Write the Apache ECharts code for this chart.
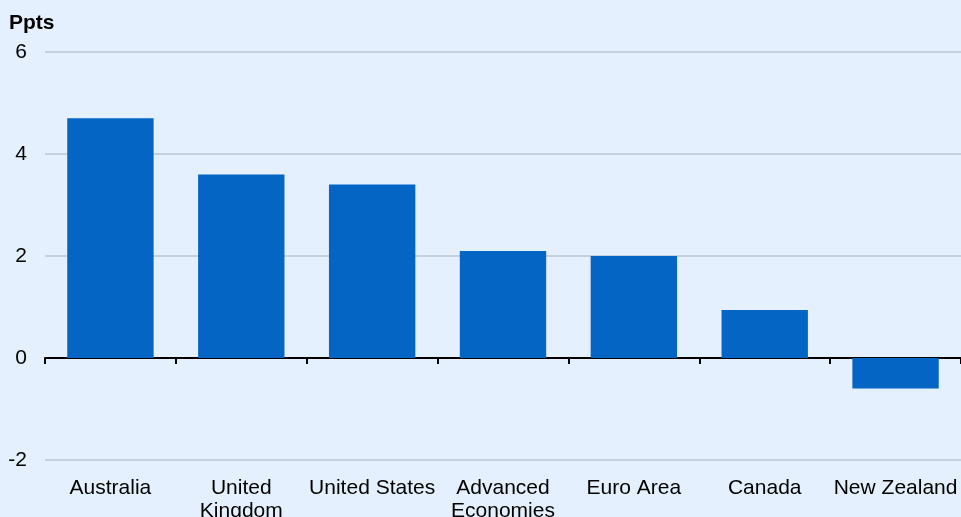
<!DOCTYPE html>
<html><head><meta charset="utf-8">
<script src="https://cdn.jsdelivr.net/npm/echarts@6/dist/echarts.min.js"></script>
<style>html,body{margin:0;padding:0;background:#e4f0fd;}#c{width:961px;height:517px;}</style>
</head><body><div id="c"></div>
<script>
const categories = ["Australia", "United\nKingdom", "United States", "Advanced\nEconomies", "Euro Area", "Canada", "New Zealand"];
const values = [4.7, 3.6, 3.4, 2.1, 2.0, 0.94, -0.6];
const yTicks = [-2, 0, 2, 4, 6];
const unitLabel = "Ppts";

const chart = echarts.init(document.getElementById('c'));
const font = '"Liberation Sans", Arial, sans-serif';
chart.setOption({
  backgroundColor: '#e4f0fd',
  animation: false,
  title: { text: unitLabel, left: 4, top: 8, textStyle: { fontFamily: font, fontSize: 21, fontWeight: 'bold', color: '#000' } },
  grid: { left: 45, right: 0, top: 52, bottom: 57, containLabel: false, outerBoundsMode: 'none' },
  xAxis: [{
    type: 'category', data: categories, position: 'bottom',
    axisLine: { show: false, onZero: false },
    axisTick: { show: false },
    axisLabel: { margin: 17, fontFamily: font, fontSize: 21, color: '#000', lineHeight: 23, interval: 0, hideOverlap: false }
  }, {
    type: 'category', data: categories, position: 'bottom',
    axisLine: { onZero: true, lineStyle: { color: '#000', width: 2 } },
    axisTick: { show: true, length: 6, lineStyle: { color: '#000', width: 2 } },
    axisLabel: { show: false }
  }],
  yAxis: {
    type: 'value', min: yTicks[0], max: yTicks[yTicks.length - 1], interval: 2,
    axisLine: { show: false }, axisTick: { show: false },
    axisLabel: { margin: 18, fontFamily: font, fontSize: 21, color: '#000' },
    splitLine: { lineStyle: { color: '#bcc6d0', width: 1.5 } }
  },
  series: [{
    type: 'bar', data: values, barCategoryGap: '34%', xAxisIndex: 0,
    itemStyle: { color: '#0565c4' }
  }]
});
</script></body></html>
